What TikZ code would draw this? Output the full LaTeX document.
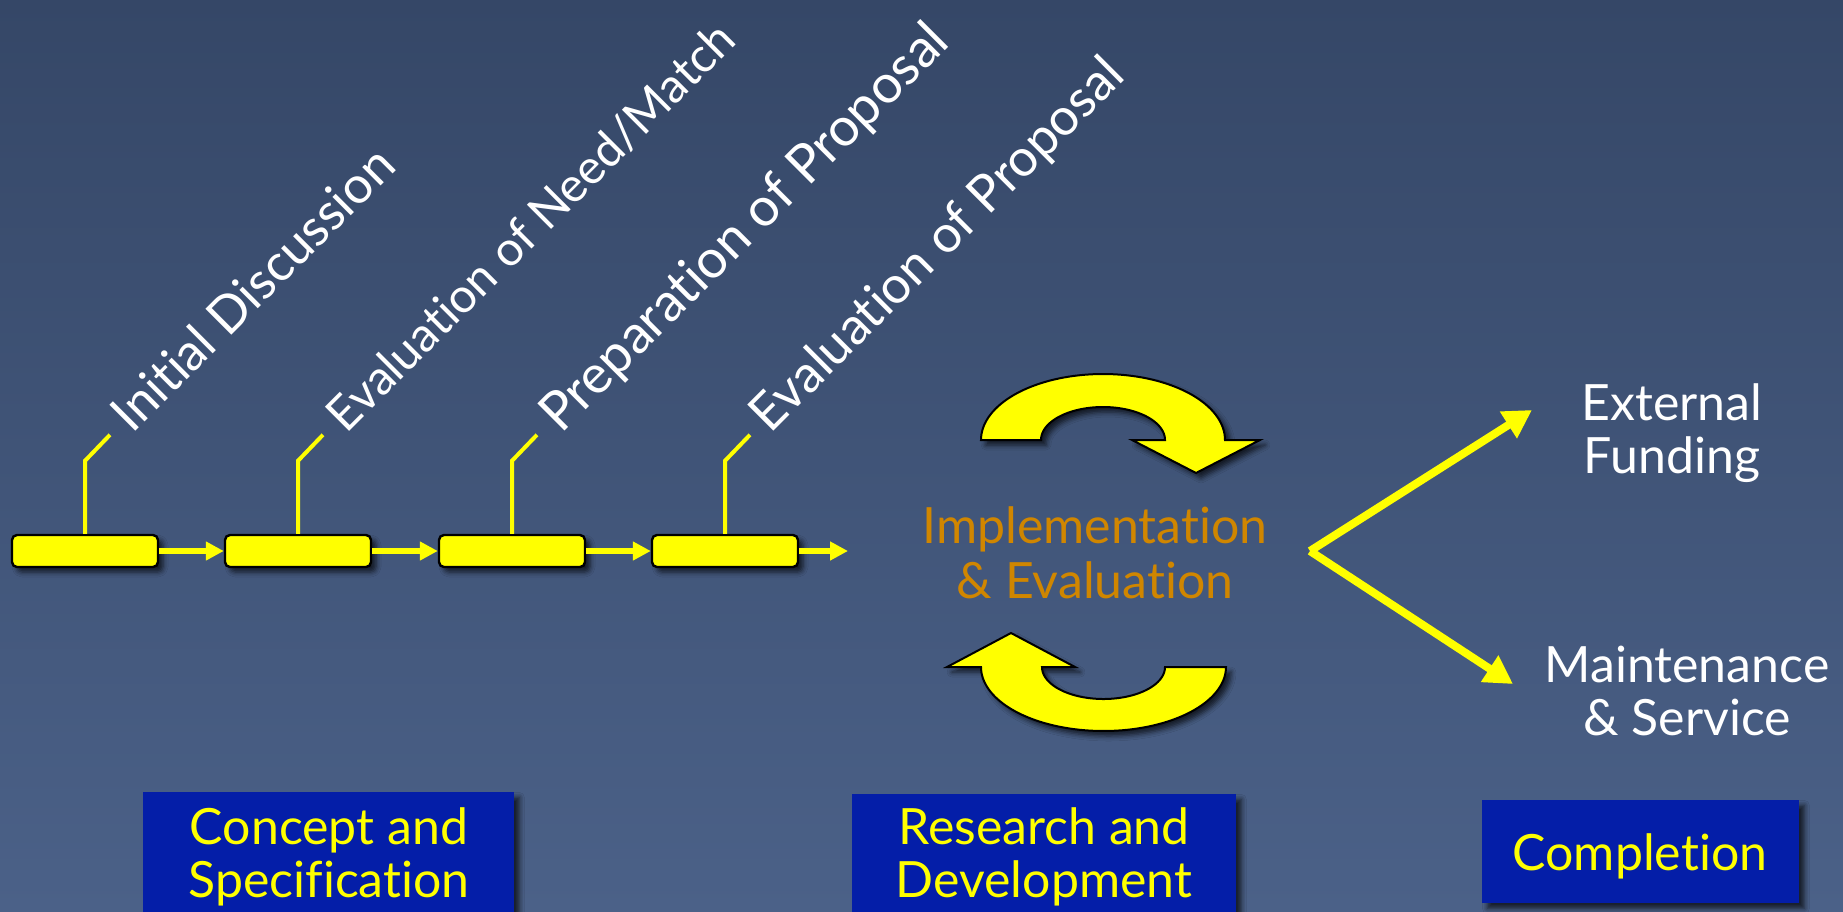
\documentclass[tikz,border=0pt]{standalone}
\usepackage{fontspec}
\setmainfont{Lato}[Ligatures=NoCommon]
\usetikzlibrary{arrows.meta,shadows.blur}
\definecolor{bgtop}{RGB}{53,71,103}
\definecolor{bgbot}{RGB}{75,97,136}
\definecolor{ylw}{RGB}{255,255,0}
\definecolor{boxblue}{RGB}{4,30,168}
\definecolor{implorange}{RGB}{208,134,0}
\begin{document}
\begin{tikzpicture}[x=0.5pt,y=-0.5pt,
  softshadow/.style={blur shadow={shadow xshift=2.5pt,shadow yshift=-2.5pt,shadow blur radius=2.5pt,shadow opacity=70}},
  stagebox/.style={draw=black,line width=1.2pt,fill=ylw,rounded corners=2.5pt,minimum width=73pt,minimum height=16pt,inner sep=0pt,softshadow},
  flowarrow/.style={draw=ylw,line width=3pt,-{Triangle[length=9pt,width=9pt]}},
  leader/.style={draw=ylw,line width=2pt},
  steplabel/.style={text=white,rotate=45,anchor=base west,inner sep=0pt},
  cycarrow/.style={draw=black,line width=1pt,fill=ylw,line join=miter,softshadow},
  forkarrow/.style={draw=ylw,line width=4pt,-{Triangle[length=14pt,width=15pt]}},
  outcome/.style={text=white,font=\fontsize{25}{26.5}\selectfont,align=center,inner sep=0pt,anchor=north},
  impl/.style={text=implorange,font=\fontsize{25}{27.5}\selectfont,align=center,inner sep=0pt,anchor=north},
  phasebox/.style={fill=boxblue,inner sep=0pt,anchor=north west,softshadow},
  phasetext/.style={text=ylw,font=\fontsize{25}{26.5}\selectfont,align=center,inner sep=0pt,anchor=north}
]
\useasboundingbox (0,0) rectangle (1843,911);
\fill[top color=bgtop,bottom color=bgbot] (0,0) rectangle (1843,911);

% stage boxes
\node[stagebox] (b1) at (85,551) {};
\node[stagebox] (b2) at (298,551) {};
\node[stagebox] (b3) at (512,551) {};
\node[stagebox] (b4) at (725,551) {};
\coordinate (flowend) at (848,551);
\draw[flowarrow] (b1.east) -- (b2.west);
\draw[flowarrow] (b2.east) -- (b3.west);
\draw[flowarrow] (b3.east) -- (b4.west);
\draw[flowarrow] (b4.east) -- (flowend);

% leaders
\draw[leader] (b1.north) -- ++(0,-73) -- ++(25,-26);
\draw[leader] (b2.north) -- ++(0,-73) -- ++(25,-26);
\draw[leader] (b3.north) -- ++(0,-73) -- ++(25,-26);
\draw[leader] (b4.north) -- ++(0,-73) -- ++(25,-26);

% rotated labels
\node[steplabel,font=\fontsize{25.6}{30}\selectfont] (l1) at (132,435) {Initial Discussion};
\node[steplabel,font=\fontsize{23.9}{30}\selectfont] (l2) at (346,435) {Evaluation of Need/Match};
\node[steplabel,font=\fontsize{26.8}{30}\selectfont] (l3) at (561,435) {Preparation of Proposal};
\node[steplabel,font=\fontsize{25.8}{30}\selectfont] (l4) at (770,435) {Evaluation of Proposal};

% cycle arrows
\draw[cycarrow] (981,440) -- plot[domain=180:360,samples=72] ({1103+122*cos(\x)},{440+66*sin(\x)})
  -- (1260,440) -- (1196,473) -- (1132,440)
  -- plot[domain=360:180,samples=72] ({1103+62*cos(\x)},{440+33*sin(\x)}) -- cycle;
\draw[cycarrow] (1226,667) -- plot[domain=0:180,samples=72] ({1103.5+122.5*cos(\x)},{667+64*sin(\x)})
  -- (947,667) -- (1011,633) -- (1075,667)
  -- plot[domain=180:0,samples=72] ({1103.5+61.5*cos(\x)},{667+32*sin(\x)}) -- cycle;

\node[impl] (ie) at (1095,506) {Implementation\\\& Evaluation};

% fork
\coordinate (fork) at (1310,551);
\coordinate (extend) at (1532,410);
\coordinate (maintend) at (1513,684);
\draw[forkarrow] (fork) -- (extend);
\draw[forkarrow] (fork) -- (maintend);
\node[outcome] (ext) at (1672,383) {External\\Funding};
\node[outcome] (maint) at (1687,646) {Maintenance\\\& Service};

% phase boxes
\node[phasebox,minimum width=185.5pt,minimum height=80pt] (cbox) at (143,792) {};
\node[phasebox,minimum width=192pt,minimum height=80pt] (rbox) at (852,794) {};
\node[phasebox,minimum width=158.5pt,minimum height=51.5pt] (fbox) at (1482,800) {};
\node[phasetext] (ctext) at (329,807) {Concept and\\Specification};
\node[phasetext] (rtext) at (1044,807) {Research and\\Development};
\node[phasetext] (ftext) at (1640,833) {Completion};
\end{tikzpicture}
\end{document}
